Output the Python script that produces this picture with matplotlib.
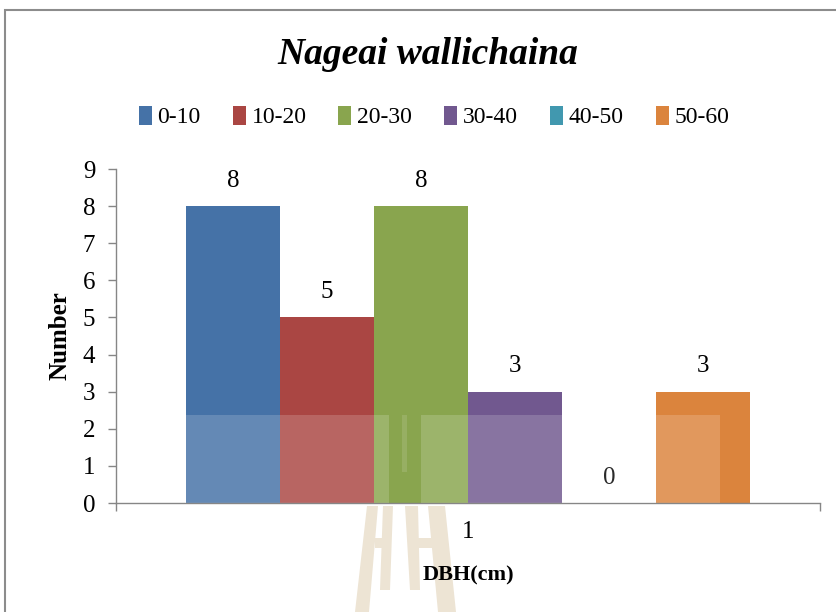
import matplotlib.pyplot as plt
from matplotlib.patches import Rectangle, Polygon
import numpy as np

plt.rcParams['font.family'] = ['Liberation Serif', 'DejaVu Serif']

# DBH classes and tree counts
classes = ['0-10', '10-20', '20-30', '30-40', '40-50', '50-60']
counts = [8, 5, 8, 3, 0, 3]
colors = ['#4572A7', '#AA4643', '#89A54E', '#71588F', '#4198AF', '#DB843D']
categories = ['1']

W, H = 837, 612
fig = plt.figure(figsize=(W / 100, H / 100), dpi=100)
ax = fig.add_axes([116 / W, 1 - 503 / H, 704 / W, 334 / H])

n = len(classes)
bw = 0.8 / n
for i, (lab, c, col) in enumerate(zip(classes, counts, colors)):
    x = 1 + (i - (n - 1) / 2) * bw
    ax.bar(x, c, width=bw, color=col, label=lab, zorder=2)
    ax.annotate(str(c), (x, c), xytext=(0, 14), textcoords='offset points',
                ha='center', va='baseline', fontsize=18)

ax.set_xlim(0.5, 1.5)
ax.set_ylim(0, 9)
ax.set_yticks(range(0, 10))
ax.set_xticks([1])
ax.set_xticklabels(categories)
ax.set_xticks([0.5, 1.5], minor=True)
ax.tick_params(axis='x', which='major', length=0, pad=13, labelsize=18)
ax.tick_params(axis='x', which='minor', length=6, color='#868686', width=1)
ax.tick_params(axis='y', length=6, color='#868686', width=1, labelsize=18, pad=9)
for s in ['top', 'right']:
    ax.spines[s].set_visible(False)
for s in ['left', 'bottom']:
    ax.spines[s].set_color('#868686')
    ax.spines[s].set_linewidth(1)

ax.set_ylabel('Number', fontsize=18, fontweight='bold', labelpad=8)
ax.set_xlabel('DBH(cm)', fontsize=16, fontweight='bold', labelpad=16)

fig.text(428 / W, 1 - 55 / H, 'Nageai wallichaina', ha='center', va='center',
         fontsize=27, fontweight='bold', style='italic')

fig.legend(loc='center', bbox_to_anchor=(434 / W, 1 - 117 / H), ncol=6,
           frameon=False, fontsize=17, handlelength=0.55, handleheight=0.9,
           handletextpad=0.25, columnspacing=1.35, borderpad=0)

# light haze of the page watermark over the lower part of the bars
haze = [(0.098, 0.388, 0.263), (0.433, 0.858, 0.263)]
for x0, x1, h in haze:
    ax.add_patch(Rectangle((x0, 0), x1 - x0, h, transform=ax.transAxes,
                           facecolor='white', alpha=0.17, lw=0, zorder=3))
ax.add_patch(Rectangle((0.406, 0.093), 0.007, 0.17, transform=ax.transAxes,
                       facecolor='white', alpha=0.12, lw=0, zorder=3))

# watermark emblem below the axis (pixel outlines)
emblem = [
    [(367, 506), (378, 506), (369, 612), (355, 612)],
    [(383, 506), (393, 506), (390, 590), (380, 590)],
    [(375, 538), (386, 538), (386, 548), (375, 548)],
    [(405, 506), (418, 506), (420, 590), (410, 590)],
    [(428, 506), (445, 506), (456, 612), (438, 612)],
    [(415, 538), (432, 538), (432, 548), (415, 548)],
]
for poly in emblem:
    pts = [(px / W, 1 - py / H) for px, py in poly]
    fig.add_artist(Polygon(pts, closed=True, transform=fig.transFigure,
                           facecolor='#EDE4D4', lw=0, zorder=0))

# chart area border
fig.add_artist(Rectangle((5 / W, -0.1), 1.2, 1.1 - 10 / H,
                         transform=fig.transFigure, fill=False,
                         edgecolor='#8C8C8C', lw=1.5))

fig.savefig('out.png', dpi=100)
